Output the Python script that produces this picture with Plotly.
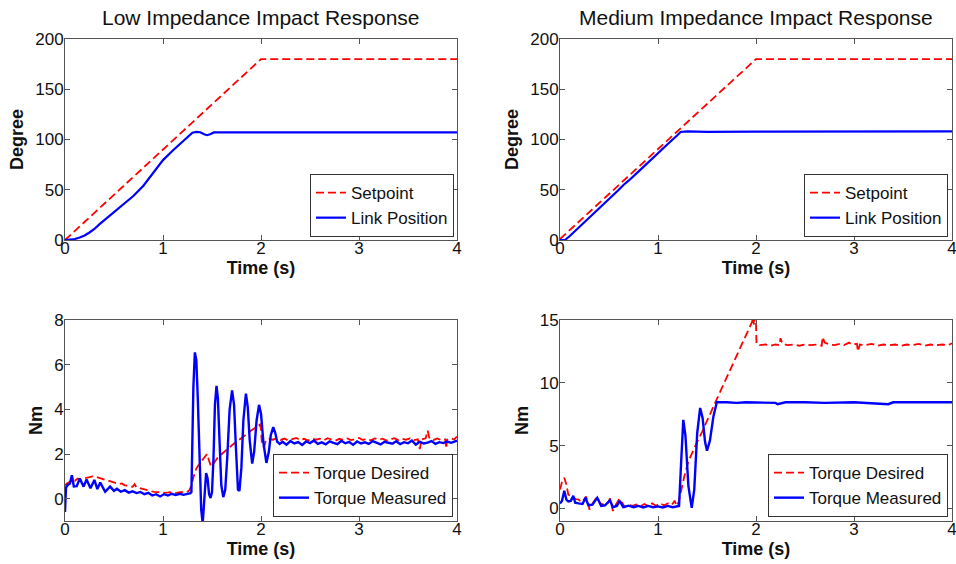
import plotly.graph_objects as go

# ---------------- data (time s, value) ----------------
TL_SETPOINT = [(0, 0), (2, 180), (4, 180)]
TL_LINK = [(0, 0), (0.05, 0.2), (0.1, 1), (0.15, 2.5), (0.2, 4.5), (0.25, 7.5), (0.3, 11),
           (0.35, 15.5), (0.4, 19.5), (0.45, 23.5), (0.5, 27.5), (0.6, 35.5), (0.7, 44),
           (0.8, 54), (0.9, 66.5), (1.0, 79.5), (1.1, 89), (1.2, 98), (1.25, 102.5),
           (1.3, 106.8), (1.34, 107.6), (1.38, 107.2), (1.42, 105.3), (1.45, 104.3),
           (1.48, 105.2), (1.52, 107), (1.7, 107), (1.9, 106.6), (1.95, 107), (2.5, 107),
           (3, 106.8), (3.5, 107), (4, 107)]

TR_SETPOINT = [(0, 1), (2, 180), (4, 180)]
TR_LINK = [(0, 0), (0.05, 0), (0.1, 4), (0.2, 13), (0.3, 22.5), (0.35, 27), (0.4, 31),
           (0.5, 40), (0.6, 50), (0.65, 55), (0.7, 59), (0.8, 68), (0.9, 77.5), (1.0, 86.5),
           (1.1, 95.5), (1.2, 104.5), (1.23, 107.5), (1.3, 108), (1.5, 107.6), (2, 107.8),
           (3, 107.7), (4, 108)]

BL_DESIRED = [(0, 0.6), (0.02, 0.68), (0.05, 0.75), (0.08, 0.86), (0.1, 0.8), (0.13, 0.9),
              (0.16, 0.84), (0.2, 0.92), (0.24, 0.95), (0.28, 1.0), (0.31, 0.98), (0.34, 0.94),
              (0.37, 0.9), (0.4, 0.86), (0.44, 0.8), (0.48, 0.76), (0.52, 0.71), (0.55, 0.66),
              (0.58, 0.68), (0.61, 0.6), (0.65, 0.57), (0.69, 0.53), (0.71, 0.65), (0.73, 0.5),
              (0.77, 0.46), (0.8, 0.42), (0.84, 0.37), (0.88, 0.34), (0.91, 0.3), (0.95, 0.29),
              (0.99, 0.27), (1.03, 0.26), (1.07, 0.29), (1.11, 0.24), (1.15, 0.27), (1.19, 0.3),
              (1.22, 0.27), (1.25, 0.31), (1.27, 0.38), (1.29, 0.6), (1.31, 0.95), (1.34, 1.35),
              (1.37, 1.55), (1.4, 1.7), (1.43, 1.9), (1.45, 2.0), (1.47, 1.7), (1.49, 1.45),
              (1.52, 1.6), (1.56, 1.85), (1.6, 2.0), (1.65, 2.2), (1.7, 2.38), (1.75, 2.55),
              (1.8, 2.7), (1.85, 2.88), (1.9, 3.05), (1.95, 3.2), (1.99, 3.32), (2.0, 3.1),
              (2.01, 2.4), (2.03, 2.3), (2.05, 2.62), (2.08, 2.68), (2.12, 2.64), (2.16, 2.7),
              (2.2, 2.63), (2.24, 2.69), (2.28, 2.6), (2.32, 2.67), (2.36, 2.72), (2.4, 2.62),
              (2.44, 2.68), (2.48, 2.6), (2.52, 2.7), (2.56, 2.64), (2.6, 2.69), (2.64, 2.61),
              (2.68, 2.71), (2.72, 2.65), (2.76, 2.6), (2.8, 2.68), (2.84, 2.63), (2.88, 2.7),
              (2.92, 2.62), (2.96, 2.67), (3.0, 2.72), (3.04, 2.63), (3.08, 2.68), (3.12, 2.61),
              (3.16, 2.7), (3.2, 2.64), (3.24, 2.69), (3.28, 2.6), (3.32, 2.66), (3.36, 2.71),
              (3.4, 2.62), (3.44, 2.68), (3.48, 2.64), (3.52, 2.7), (3.56, 2.62), (3.6, 2.66),
              (3.62, 2.22), (3.64, 2.65), (3.68, 2.7), (3.7, 3.05), (3.72, 2.68), (3.76, 2.63),
              (3.8, 2.7), (3.84, 2.62), (3.88, 2.66), (3.89, 2.25), (3.9, 2.64), (3.94, 2.7),
              (3.97, 2.65), (4.0, 2.78)]

BL_MEASURED = [(0, -0.6), (0.01, 0.5), (0.03, 0.62), (0.05, 0.68), (0.07, 1.05), (0.09, 0.55),
               (0.12, 0.56), (0.15, 0.9), (0.19, 0.54), (0.22, 0.86), (0.26, 0.47), (0.3, 0.84),
               (0.33, 0.43), (0.36, 0.72), (0.41, 0.31), (0.46, 0.54), (0.5, 0.35), (0.53, 0.44),
               (0.57, 0.31), (0.61, 0.38), (0.65, 0.27), (0.69, 0.33), (0.73, 0.25), (0.77, 0.3),
               (0.81, 0.2), (0.85, 0.26), (0.89, 0.14), (0.93, 0.2), (0.97, 0.1), (1.01, 0.2),
               (1.05, 0.14), (1.09, 0.22), (1.13, 0.16), (1.17, 0.22), (1.21, 0.17), (1.25, 0.22),
               (1.28, 0.25), (1.29, 0.3), (1.3, 2.5), (1.31, 5.0), (1.325, 6.55), (1.34, 6.2),
               (1.355, 4.5), (1.37, 2.0), (1.39, -0.5), (1.405, -1.1), (1.42, -0.3), (1.44, 1.15),
               (1.455, 0.9), (1.47, 0.2), (1.485, 0.03), (1.5, 0.3), (1.515, 1.8), (1.53, 4.2),
               (1.546, 5.05), (1.56, 4.5), (1.575, 2.8), (1.595, 0.6), (1.615, 0.07), (1.635, 0.4),
               (1.655, 1.8), (1.68, 4.0), (1.705, 4.85), (1.725, 4.2), (1.745, 2.2), (1.765, 0.4),
               (1.78, 0.35), (1.8, 1.4), (1.82, 3.5), (1.846, 4.7), (1.865, 4.1), (1.885, 2.6),
               (1.91, 1.57), (1.93, 2.1), (1.955, 3.5), (1.98, 4.2), (2.0, 3.8), (2.025, 2.5),
               (2.055, 1.6), (2.08, 2.1), (2.1, 2.85), (2.125, 3.2), (2.145, 2.95), (2.165, 2.55),
               (2.19, 2.45),
               (2.22, 2.55), (2.26, 2.42), (2.3, 2.58), (2.34, 2.47), (2.38, 2.53), (2.42, 2.4),
               (2.46, 2.56), (2.5, 2.49), (2.54, 2.6), (2.58, 2.45), (2.62, 2.52), (2.66, 2.43),
               (2.7, 2.57), (2.74, 2.5), (2.78, 2.44), (2.82, 2.59), (2.86, 2.48), (2.9, 2.54),
               (2.94, 2.41), (2.98, 2.56), (3.02, 2.47), (3.06, 2.52), (3.1, 2.45), (3.14, 2.58),
               (3.18, 2.49), (3.22, 2.43), (3.26, 2.55), (3.3, 2.5), (3.34, 2.46), (3.38, 2.57),
               (3.42, 2.44), (3.46, 2.53), (3.5, 2.48), (3.54, 2.6), (3.58, 2.42), (3.62, 2.55),
               (3.66, 2.47), (3.7, 2.51), (3.74, 2.58), (3.78, 2.45), (3.82, 2.53), (3.86, 2.49),
               (3.9, 2.56), (3.94, 2.5), (3.98, 2.55), (4.0, 2.6)]

BR_DESIRED = [(0, 1.5), (0.02, 2.1), (0.044, 2.45), (0.065, 1.9), (0.085, 1.1), (0.11, 1.0),
              (0.136, 0.85), (0.16, 0.75), (0.19, 0.7), (0.22, 0.5), (0.245, 0.7), (0.265, 0.95),
              (0.285, 0.55), (0.3, -0.1), (0.33, 0.35), (0.36, 0.8), (0.375, 0.9), (0.395, 0.65),
              (0.41, 0.4), (0.45, 0.3), (0.49, 0.45), (0.51, 0.8), (0.525, 0.35), (0.54, -0.2),
              (0.57, 0.3), (0.6, 0.7), (0.615, 0.75), (0.635, 0.45), (0.66, 0.1), (0.7, 0.3),
              (0.74, 0.2), (0.78, 0.32), (0.82, 0.15), (0.86, 0.35), (0.9, 0.2), (0.94, 0.4),
              (0.98, 0.22), (1.02, 0.42), (1.06, 0.25), (1.1, 0.4), (1.14, 0.28), (1.17, 0.62),
              (1.19, 0.2), (1.21, 0.5), (1.24, 1.6), (1.27, 2.6), (1.31, 3.75), (1.35, 4.5),
              (1.4, 5.3), (1.45, 6.1), (1.5, 7.0), (1.55, 7.8), (1.6, 8.7), (1.65, 9.55),
              (1.7, 10.4), (1.75, 11.2), (1.8, 12.1), (1.85, 12.9), (1.9, 13.8), (1.94, 14.5),
              (1.96, 14.85), (1.97, 15.3), (1.98, 14.6), (1.99, 15.3), (2.0, 14.8), (2.005, 13.1),
              (2.04, 13.0), (2.1, 13.05), (2.15, 12.95), (2.2, 13.05), (2.24, 13.0), (2.25, 13.55),
              (2.27, 13.1), (2.32, 13.0), (2.38, 13.05), (2.44, 12.95), (2.5, 13.05), (2.56, 13.0),
              (2.62, 13.05), (2.67, 12.95), (2.68, 13.65), (2.7, 13.2), (2.75, 13.05), (2.8, 13.0),
              (2.86, 13.1), (2.9, 13.0), (2.95, 13.2), (2.98, 13.05), (3.03, 13.1), (3.04, 12.5),
              (3.06, 13.05), (3.12, 13.0), (3.18, 13.1), (3.24, 12.95), (3.3, 13.05), (3.36, 13.0),
              (3.42, 13.05), (3.48, 12.95), (3.54, 13.05), (3.6, 13.0), (3.66, 13.1), (3.72, 12.95),
              (3.78, 13.05), (3.84, 13.0), (3.9, 13.05), (3.96, 13.0), (4.0, 13.15)]

BR_MEASURED = [(0, 0.4), (0.02, 0.6), (0.044, 1.4), (0.065, 0.7), (0.085, 0.55), (0.11, 0.6),
               (0.136, 1.0), (0.155, 0.45), (0.19, 0.4), (0.23, 0.35), (0.26, 0.85), (0.29, 0.25),
               (0.33, 0.3), (0.38, 0.85), (0.42, 0.2), (0.46, 0.25), (0.51, 0.65), (0.54, 0.1),
               (0.58, 0.2), (0.61, 0.6), (0.645, 0.1), (0.7, 0.22), (0.75, 0.1), (0.8, 0.2),
               (0.85, 0.08), (0.9, 0.2), (0.95, 0.1), (1.0, 0.16), (1.05, 0.08), (1.1, 0.2),
               (1.15, 0.1), (1.2, 0.15), (1.215, 0.2), (1.235, 3.5), (1.258, 7.05), (1.28, 5.8),
               (1.31, 1.8), (1.344, 0.05), (1.37, 1.5), (1.4, 6.0), (1.43, 8.0), (1.455, 7.2),
               (1.48, 5.3), (1.5, 4.6), (1.53, 5.4), (1.565, 7.3), (1.6, 8.45), (1.7, 8.45),
               (1.8, 8.4), (1.9, 8.45), (2.0, 8.45), (2.2, 8.4), (2.22, 8.3), (2.3, 8.45),
               (2.5, 8.45), (2.7, 8.4), (3.0, 8.45), (3.35, 8.3), (3.4, 8.45), (3.7, 8.45),
               (4.0, 8.45)]

TITLES = ["Low Impedance Impact Response", "Medium Impedance Impact Response"]
X_LABEL = "Time (s)"
TOP_Y_LABEL = "Degree"
BOTTOM_Y_LABEL = "Nm"
TOP_NAMES = ["Setpoint", "Link Position"]
BOTTOM_NAMES = ["Torque Desired", "Torque Measured"]

# ---------------- figure ----------------
W, H = 956, 564
RED, BLUE = "#ff0000", "#0000ff"
AXC = "#555555"
FONT = "Arial, Liberation Sans, sans-serif"

fig = go.Figure()


def add(pairs, name, color, dash, n, width):
    t = [p[0] for p in pairs]
    v = [p[1] for p in pairs]
    sfx = "" if n == 1 else str(n)
    fig.add_trace(go.Scatter(
        x=t, y=v, mode="lines", name=name,
        line=dict(color=color, width=width, dash=dash),
        xaxis="x" + sfx, yaxis="y" + sfx, legend="legend" + sfx,
    ))


DASH = "8px,4px"
add(TL_SETPOINT, TOP_NAMES[0], RED, DASH, 1, 1.8)
add(TL_LINK, TOP_NAMES[1], BLUE, "solid", 1, 2.2)
add(TR_SETPOINT, TOP_NAMES[0], RED, DASH, 2, 1.8)
add(TR_LINK, TOP_NAMES[1], BLUE, "solid", 2, 2.2)
add(BL_DESIRED, BOTTOM_NAMES[0], RED, DASH, 3, 1.8)
add(BL_MEASURED, BOTTOM_NAMES[1], BLUE, "solid", 3, 2.4)
add(BR_DESIRED, BOTTOM_NAMES[0], RED, DASH, 4, 1.8)
add(BR_MEASURED, BOTTOM_NAMES[1], BLUE, "solid", 4, 2.4)


def px(x):
    return x / W


def py(y):
    return 1 - y / H


xdom = [[px(65), px(457)], [px(560), px(952)], [px(65), px(457)], [px(560), px(952)]]
ydom = [[py(240), py(39)], [py(240), py(39)], [py(521), py(320)], [py(521), py(320)]]
yranges = [[0, 200], [0, 200], [-1, 8], [-1, 15]]
ydticks = [50, 50, 2, 5]
ylabels = [TOP_Y_LABEL, TOP_Y_LABEL, BOTTOM_Y_LABEL, BOTTOM_Y_LABEL]

common = dict(showline=True, linecolor=AXC, linewidth=1, mirror="ticks", ticks="inside",
              ticklen=5, tickcolor=AXC, tickwidth=1, showgrid=False, zeroline=False,
              automargin=False, ticklabeloverflow="allow",
              tickfont=dict(size=17, color="#111111", family=FONT))

layout = dict(width=W, height=H, margin=dict(l=0, r=0, t=0, b=0, pad=0), autosize=False,
              paper_bgcolor="white", plot_bgcolor="white", font=dict(family=FONT, color="#111111"))

legpos = [(px(454), py(237)), (px(948), py(237)), (px(453), py(517)), (px(948), py(517))]

for i in range(4):
    sfx = "" if i == 0 else str(i + 1)
    layout["xaxis" + sfx] = dict(common, domain=xdom[i], anchor="y" + sfx, range=[0, 4], dtick=1,
                                 ticklabelstandoff=-7,
                                 title=dict(text=X_LABEL, standoff=2,
                                            font=dict(size=18, weight="bold", family=FONT)))
    layout["yaxis" + sfx] = dict(common, domain=ydom[i], anchor="x" + sfx, range=yranges[i],
                                 dtick=ydticks[i], ticklabelstandoff=-3,
                                 title=dict(text=ylabels[i], standoff=6,
                                            font=dict(size=18, weight="bold", family=FONT)))
    layout["legend" + sfx] = dict(x=legpos[i][0], y=legpos[i][1], xanchor="right", yanchor="bottom",
                                  bordercolor="#333333", borderwidth=1, bgcolor="white",
                                  font=dict(size=17, family=FONT, color="#111111"),
                                  itemwidth=30, tracegroupgap=0)

fig.update_layout(**layout)

for i, title in enumerate(TITLES):
    fig.add_annotation(text=title, x=(xdom[i][0] + xdom[i][1]) / 2, y=py(18), xref="paper",
                       yref="paper", showarrow=False, xanchor="center", yanchor="middle",
                       font=dict(size=21, family=FONT, color="#111111"))

# the figure fills the whole window, so drop the browser's default page margin
fig.write_html("out.html", config={"displayModeBar": False},
               post_script="document.body.style.margin='0';document.body.style.overflow='hidden';")
